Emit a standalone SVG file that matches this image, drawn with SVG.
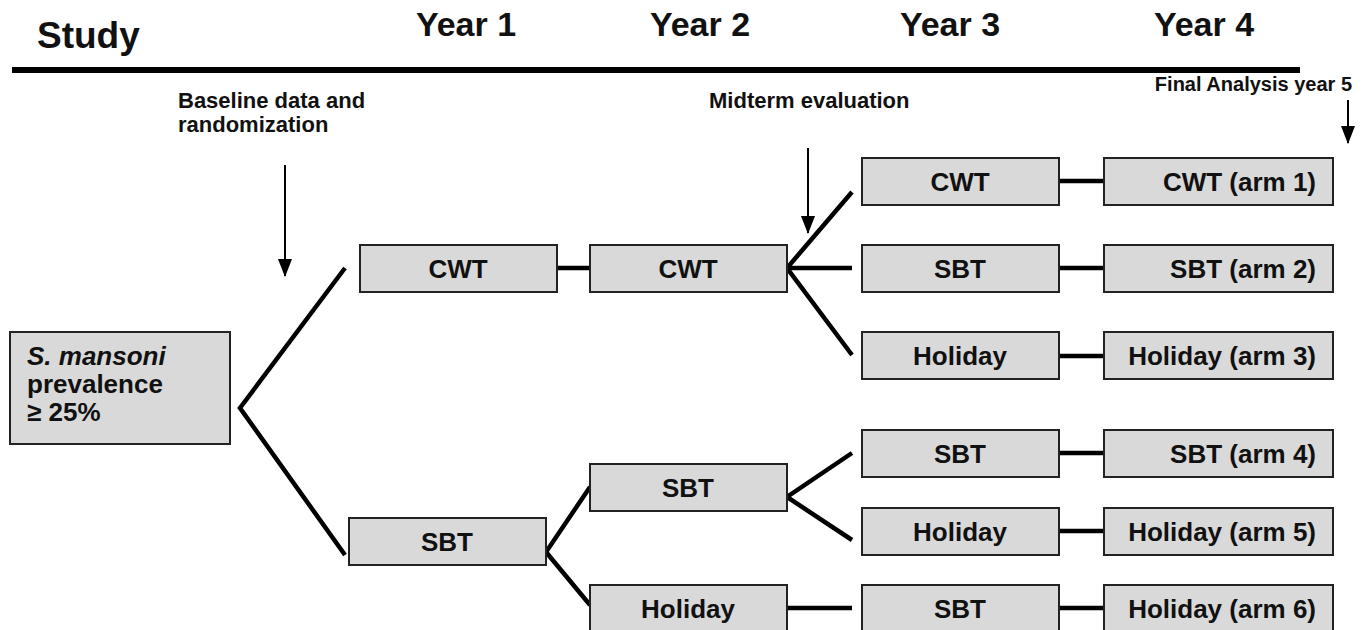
<svg xmlns="http://www.w3.org/2000/svg" width="1363" height="630" viewBox="0 0 1363 630">
<style>
text{font-family:"Liberation Sans",Arial,sans-serif;font-weight:bold;fill:#111}
.hdr{font-size:34px}
.ann{font-size:22px}
.box{fill:#d9d9d9;stroke:#222;stroke-width:2}
.bt{font-size:26px;text-anchor:middle}
.rt{font-size:26px;text-anchor:end}
.ln{stroke:#000;stroke-width:4.5;fill:none}
.ar{stroke:#000;stroke-width:2;fill:none}
</style>
<defs>
<marker id="ah" markerWidth="18" markerHeight="14" refX="17" refY="7" orient="auto" markerUnits="userSpaceOnUse"><path d="M0,0 L18,7 L0,14 Z" fill="#000"/></marker>
</defs>
<rect width="1363" height="630" fill="#fff"/>
<g id="header">
<text x="37" y="48" font-size="37">Study</text>
<text class="hdr" x="466" y="36" text-anchor="middle">Year 1</text>
<text class="hdr" x="700" y="36" text-anchor="middle">Year 2</text>
<text class="hdr" x="950" y="36" text-anchor="middle">Year 3</text>
<text class="hdr" x="1204" y="36" text-anchor="middle">Year 4</text>
<line x1="12" y1="70" x2="1300" y2="70" stroke="#000" stroke-width="6"/>
</g>
<g id="annotations">
<text class="ann" x="178" y="108">Baseline data and</text>
<text class="ann" x="178" y="132">randomization</text>
<text class="ann" x="709" y="108">Midterm evaluation</text>
<text x="1352" y="91" font-size="20" text-anchor="end">Final Analysis year 5</text>
<line class="ar" x1="285" y1="165" x2="285" y2="276" marker-end="url(#ah)"/>
<line class="ar" x1="808" y1="148" x2="808" y2="233" marker-end="url(#ah)"/>
<line class="ar" x1="1348" y1="100" x2="1348" y2="143" marker-end="url(#ah)"/>
</g>
<g id="connectors">
<polyline class="ln" points="345,268 240,408 345,555"/>
<line class="ln" x1="557" y1="268" x2="590" y2="268"/>
<polyline class="ln" points="852,192 787,268 852,355"/>
<line class="ln" x1="787" y1="268" x2="852" y2="268"/>
<polyline class="ln" points="590,487 546,552 590,605"/>
<polyline class="ln" points="852,453 787,497 852,540"/>
<line class="ln" x1="787" y1="608" x2="852" y2="608"/>
<line class="ln" x1="1059" y1="181" x2="1104" y2="181"/>
<line class="ln" x1="1059" y1="268" x2="1104" y2="268"/>
<line class="ln" x1="1059" y1="356" x2="1104" y2="356"/>
<line class="ln" x1="1059" y1="453" x2="1104" y2="453"/>
<line class="ln" x1="1059" y1="531" x2="1104" y2="531"/>
<line class="ln" x1="1059" y1="608" x2="1104" y2="608"/>
</g>
<g id="n-start">
<rect class="box" x="10" y="332" width="220" height="112"/>
<text x="27" y="365" font-size="26" font-style="italic">S. mansoni</text>
<text x="27" y="393" font-size="26">prevalence</text>
<text x="27" y="421" font-size="26">≥ 25%</text>
</g>
<g id="n-y1-cwt"><rect class="box" x="360" y="245" width="197" height="47"/><text class="bt" x="458" y="278">CWT</text></g>
<g id="n-y2-cwt"><rect class="box" x="590" y="245" width="197" height="47"/><text class="bt" x="688" y="278">CWT</text></g>
<g id="n-y1-sbt"><rect class="box" x="349" y="518" width="197" height="47"/><text class="bt" x="447" y="551">SBT</text></g>
<g id="n-y2-sbt"><rect class="box" x="590" y="464" width="197" height="47"/><text class="bt" x="688" y="497">SBT</text></g>
<g id="n-y2-hol"><rect class="box" x="590" y="585" width="197" height="47"/><text class="bt" x="688" y="618">Holiday</text></g>
<g id="n-y3-1"><rect class="box" x="862" y="158" width="197" height="47"/><text class="bt" x="960" y="191">CWT</text></g>
<g id="n-y3-2"><rect class="box" x="862" y="245" width="197" height="47"/><text class="bt" x="960" y="278">SBT</text></g>
<g id="n-y3-3"><rect class="box" x="862" y="332" width="197" height="47"/><text class="bt" x="960" y="365">Holiday</text></g>
<g id="n-y3-4"><rect class="box" x="862" y="430" width="197" height="47"/><text class="bt" x="960" y="463">SBT</text></g>
<g id="n-y3-5"><rect class="box" x="862" y="508" width="197" height="47"/><text class="bt" x="960" y="541">Holiday</text></g>
<g id="n-y3-6"><rect class="box" x="862" y="585" width="197" height="47"/><text class="bt" x="960" y="618">SBT</text></g>
<g id="n-y4-1"><rect class="box" x="1104" y="158" width="229" height="47"/><text class="rt" x="1316" y="191">CWT (arm 1)</text></g>
<g id="n-y4-2"><rect class="box" x="1104" y="245" width="229" height="47"/><text class="rt" x="1316" y="278">SBT (arm 2)</text></g>
<g id="n-y4-3"><rect class="box" x="1104" y="332" width="229" height="47"/><text class="rt" x="1316" y="365">Holiday (arm 3)</text></g>
<g id="n-y4-4"><rect class="box" x="1104" y="430" width="229" height="47"/><text class="rt" x="1316" y="463">SBT (arm 4)</text></g>
<g id="n-y4-5"><rect class="box" x="1104" y="508" width="229" height="47"/><text class="rt" x="1316" y="541">Holiday (arm 5)</text></g>
<g id="n-y4-6"><rect class="box" x="1104" y="585" width="229" height="47"/><text class="rt" x="1316" y="618">Holiday (arm 6)</text></g>
</svg>
